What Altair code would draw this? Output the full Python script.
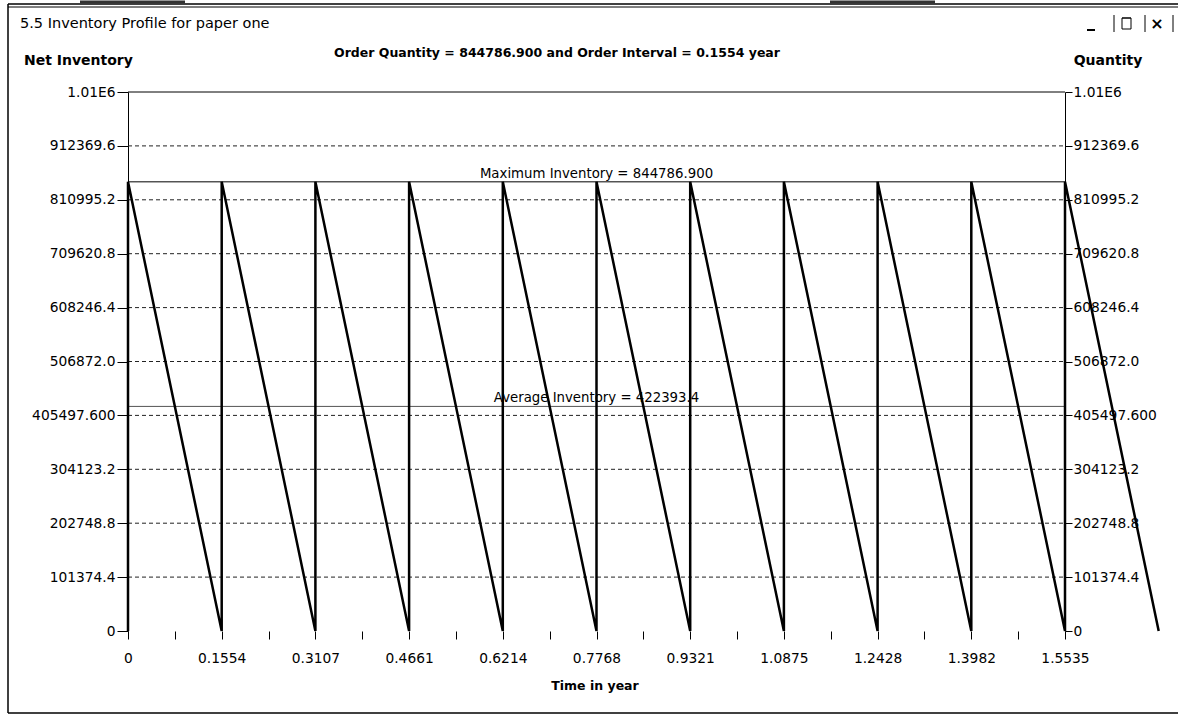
import altair as alt
import pandas as pd

# ---- data ----
order_quantity = 844786.9
average_inventory = 422393.4
order_times = [0, 0.15535, 0.3107, 0.46605, 0.6214, 0.77675, 0.9321,
               1.08745, 1.2428, 1.39815, 1.5535]
stockout_times = [0.15535, 0.3107, 0.46605, 0.6214, 0.77675, 0.9321,
                  1.08745, 1.2428, 1.39815, 1.5535, 1.70885]

y_ticks = [0, 101374.4, 202748.8, 304123.2, 405497.6, 506872.0, 608246.4,
           709620.8, 810995.2, 912369.6, 1013744]
y_tick_labels = ["0", "101374.4", "202748.8", "304123.2", "405497.600",
                 "506872.0", "608246.4", "709620.8", "810995.2",
                 "912369.6", "1.01E6"]
x_ticks = order_times
x_tick_labels = ["0", "0.1554", "0.3107", "0.4661", "0.6214", "0.7768",
                 "0.9321", "1.0875", "1.2428", "1.3982", "1.5535"]
x_minor = [(a + b) / 2 for a, b in zip(x_ticks[:-1], x_ticks[1:])]

W, H = 937, 539
FONT = "DejaVu Sans"
LS = 13.8

# sawtooth path
pts = []
for i, (t0, t1) in enumerate(zip(order_times, stockout_times)):
    pts.append({"t": t0, "q": 0.0})
    pts.append({"t": t0, "q": order_quantity})
    pts.append({"t": t1, "q": 0.0})
for k, p in enumerate(pts):
    p["o"] = k
saw = pd.DataFrame(pts)


def label_expr(vals, labs):
    e = "''"
    for v, l in reversed(list(zip(vals, labs))):
        e = f"datum.value == {v!r} ? '{l}' : " + e
    return e


xs = alt.Scale(domain=[0, 1.5535], nice=False, zero=False)
ys = alt.Scale(domain=[0, 1013744], nice=False)

x_axis = alt.Axis(values=x_ticks + x_minor, labelExpr=label_expr(x_ticks, x_tick_labels),
                  domain=False, grid=False, tickSize=8, tickColor="black", tickOffset=0,
                  labelPadding=12, labelFont=FONT, labelFontSize=LS, labelColor="black",
                  title=None, labelFlush=False)
y_axis_l = alt.Axis(values=y_ticks, labelExpr=label_expr(y_ticks, y_tick_labels),
                    orient="left", domain=True, domainColor="black", grid=False,
                    tickSize=11, tickColor="black", labelPadding=2, labelFont=FONT,
                    labelFontSize=LS, labelColor="black", title=None, labelFlush=False)
y_axis_r = alt.Axis(values=y_ticks, labelExpr=label_expr(y_ticks, y_tick_labels),
                    orient="right", domain=True, domainColor="black", grid=False,
                    tickSize=7, tickColor="black", labelPadding=1, labelFont=FONT,
                    labelFontSize=LS, labelColor="black", title=None, labelFlush=False)

grid_df = pd.DataFrame({"v": y_ticks[1:-1]})
grid = alt.Chart(grid_df).mark_rule(color="#222", strokeDash=[4, 3], strokeWidth=1).encode(
    y=alt.Y("v:Q", scale=ys, axis=y_axis_l), x=alt.value(0), x2=alt.value(W))

top_line = alt.Chart(pd.DataFrame({"v": [y_ticks[-1]]})).mark_rule(color="black").encode(
    y=alt.Y("v:Q", scale=ys, axis=None), x=alt.value(0), x2=alt.value(W))

max_df = pd.DataFrame({"v": [order_quantity],
                       "lab": ["Maximum Inventory = 844786.900"]})
max_line = alt.Chart(max_df).mark_rule(color="black", strokeWidth=1).encode(
    y=alt.Y("v:Q", scale=ys, axis=None), x=alt.value(0), x2=alt.value(W))
max_text = alt.Chart(max_df).mark_text(font=FONT, fontSize=13.3, baseline="bottom", dy=-1,
                                       color="black").encode(
    y=alt.Y("v:Q", scale=ys, axis=None), x=alt.value(W / 2), text="lab:N")

avg_df = pd.DataFrame({"v": [average_inventory],
                       "lab": ["Average Inventory = 422393.4"]})
avg_line = alt.Chart(avg_df).mark_rule(color="#555", strokeWidth=1).encode(
    y=alt.Y("v:Q", scale=ys, axis=None), x=alt.value(0), x2=alt.value(W))
avg_text = alt.Chart(avg_df).mark_text(font=FONT, fontSize=13.3, baseline="bottom", dy=-1,
                                       color="black").encode(
    y=alt.Y("v:Q", scale=ys, axis=None), x=alt.value(W / 2), text="lab:N")

line = alt.Chart(saw).mark_line(color="black", strokeWidth=2.5, clip=False).encode(
    x=alt.X("t:Q", scale=xs, axis=x_axis),
    y=alt.Y("q:Q", scale=ys, axis=None),
    order="o:Q")

right_axis = alt.Chart(grid_df).mark_rule(opacity=0).encode(
    y=alt.Y("v:Q", scale=ys, axis=y_axis_r))

one = pd.DataFrame({"a": [0]})


def txt(s, x, y, size=12, bold=False, align="center"):
    return alt.Chart(one).mark_text(text=s, font=FONT, fontSize=size,
                                    fontWeight="bold" if bold else "normal",
                                    align=align, baseline="middle", color="black").encode(
        x=alt.value(x - 128), y=alt.value(y - 92))


def rule(x1, y1, x2, y2, w=1, c="black"):
    return alt.Chart(one).mark_rule(color=c, strokeWidth=w).encode(
        x=alt.value(x1 - 128), x2=alt.value(x2 - 128),
        y=alt.value(y1 - 92), y2=alt.value(y2 - 92))


texts = [
    txt("5.5 Inventory Profile for paper one", 20, 24, 14.5, align="left"),
    txt("Order Quantity = 844786.900 and Order Interval = 0.1554 year", 557, 53, 12.5, True),
    txt("Net Inventory", 24, 61, 14, True, align="left"),
    txt("Quantity", 1108, 61, 14, True),
    txt("Time in year", 595, 686, 12.5, True),
    txt("×", 1157, 24, 16, True),
]
chrome = [
    rule(8, 4, 1178, 4, 1.5), rule(8, 7, 1178, 7, 1),
    rule(80, 2, 185, 2, 3, "#333"), rule(830, 2, 935, 2, 3, "#333"),
    rule(8, 4, 8, 713, 1.5), rule(8, 713, 1178, 713, 1.5),
    rule(1087, 30, 1095, 30, 2),
    rule(1114, 15, 1114, 32, 1), rule(1145, 15, 1145, 32, 1), rule(1173, 15, 1173, 32, 1),
    rule(1122, 18, 1131, 18, 1.5), rule(1122, 29, 1131, 29, 1), rule(1122, 18, 1122, 29, 1),
    rule(1131, 18, 1131, 29, 1),
]

chart = alt.layer(
    grid, top_line, max_line, max_text, avg_line, avg_text, *texts, *chrome, line, right_axis
).resolve_scale(y="shared").resolve_axis(y="independent").properties(
    width=W, height=H,
    autosize=alt.AutoSizeParams(type="none"),
    padding={"left": 128, "top": 92, "right": 113, "bottom": 85},
    background="white",
).configure_view(stroke=None)

chart.save("out.html", embed_options={"renderer": "svg", "actions": False})
